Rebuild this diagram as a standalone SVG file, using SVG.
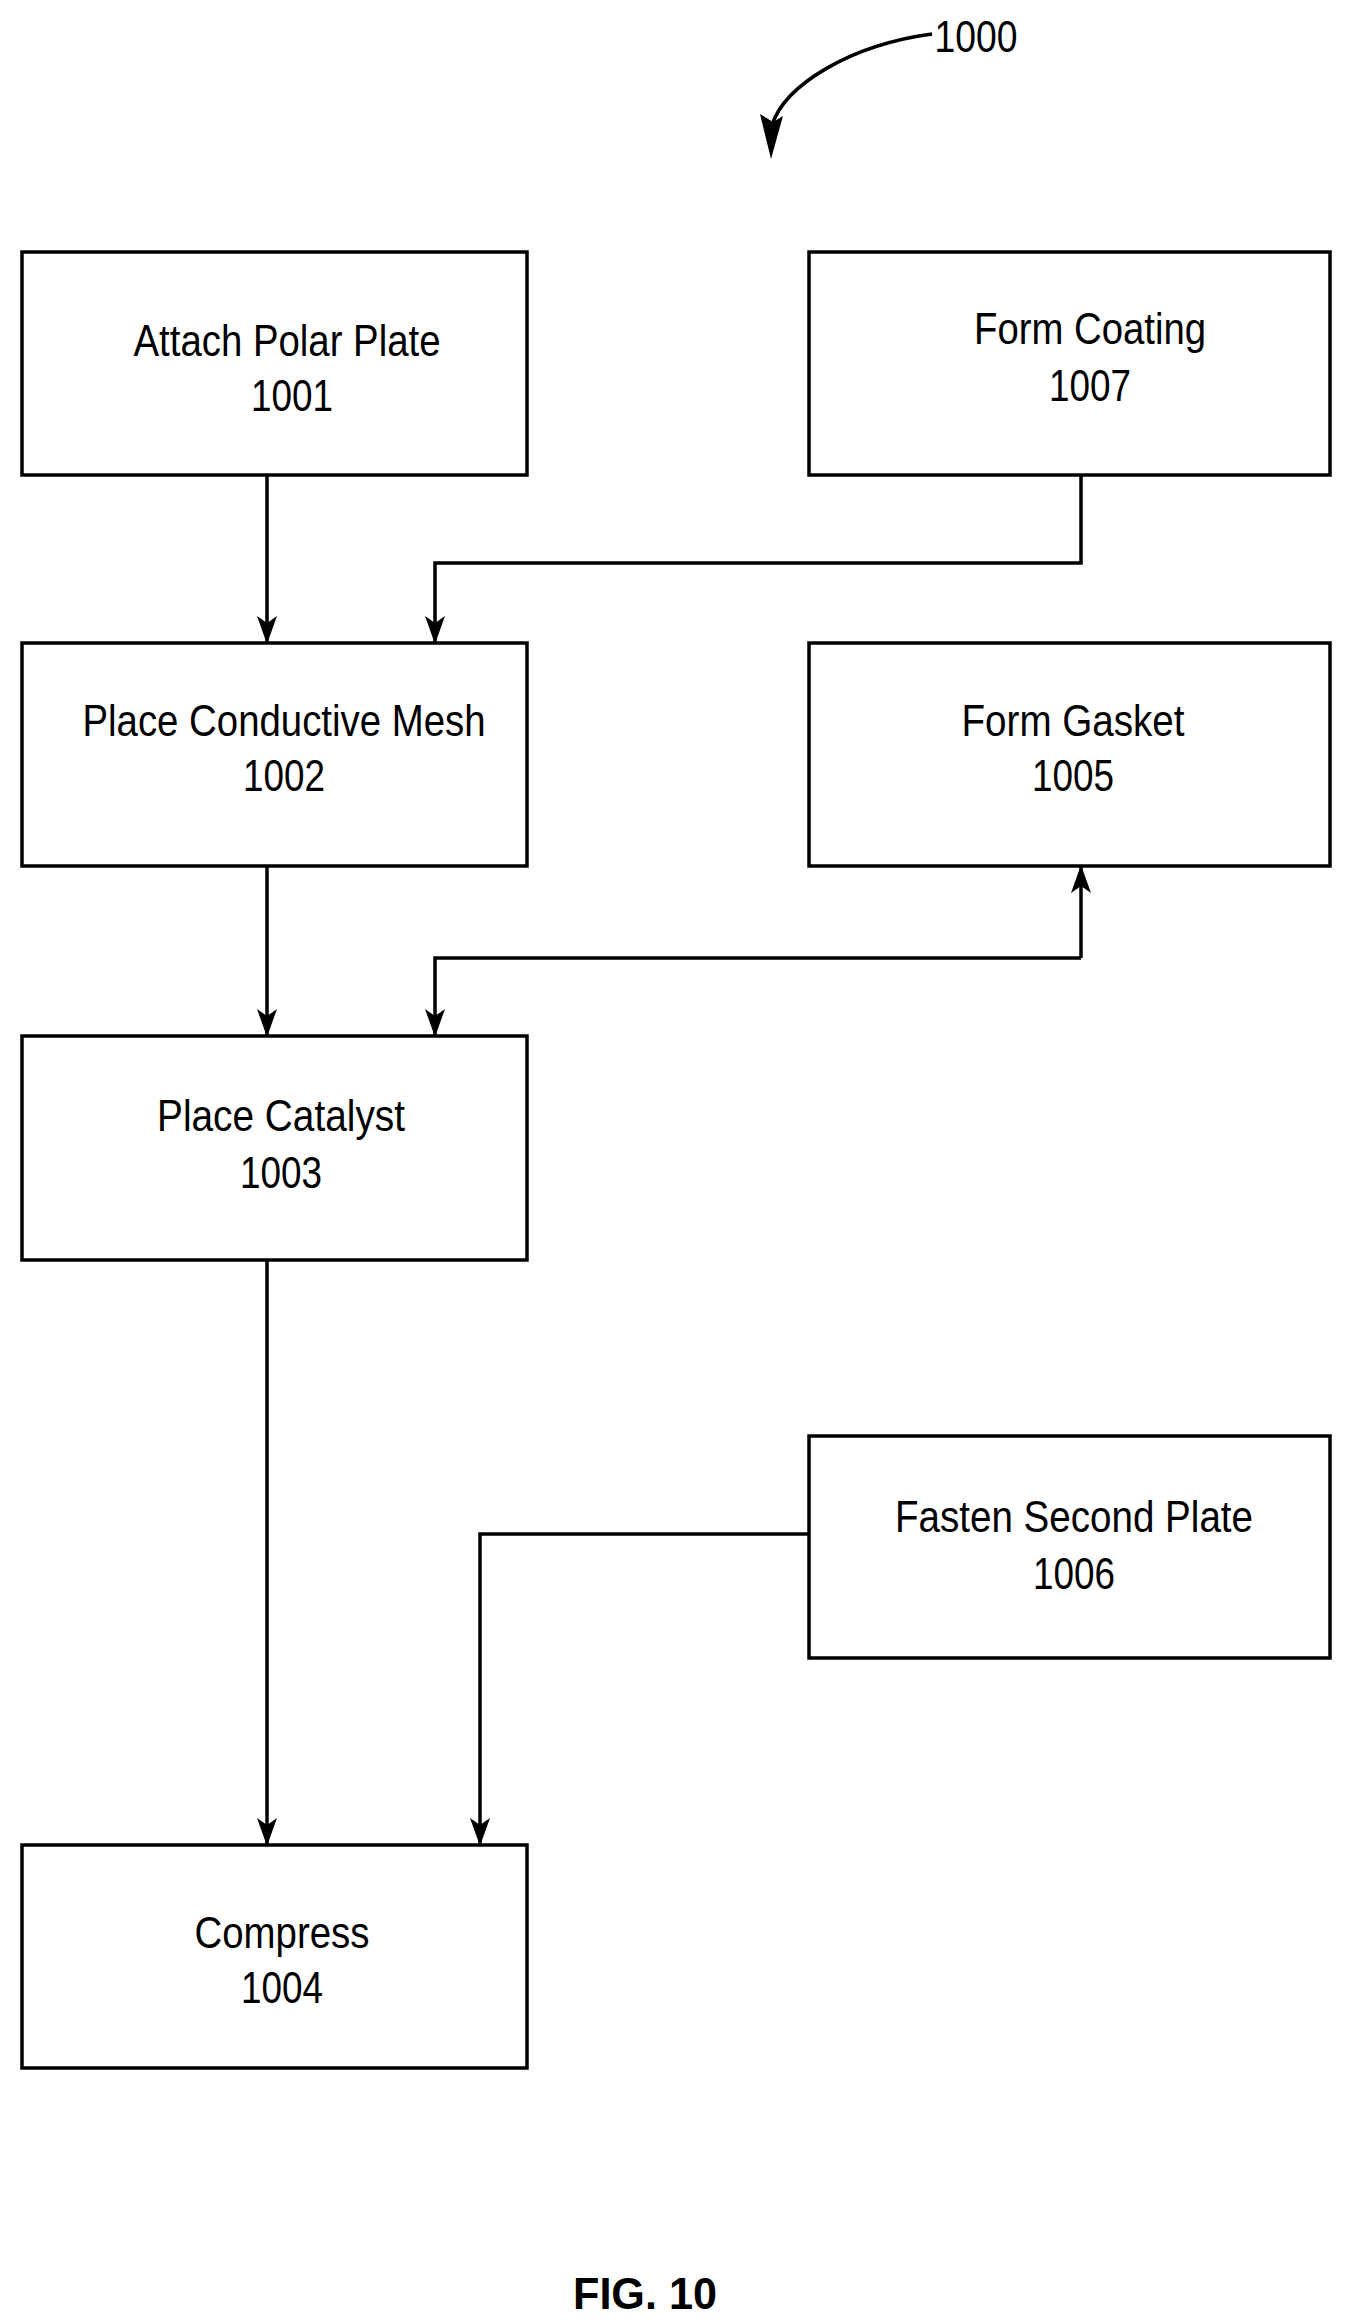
<svg xmlns="http://www.w3.org/2000/svg" width="1351" height="2320" viewBox="0 0 1351 2320">
<style>
.b{fill:#fff;stroke:#000;stroke-width:3.5}
.t{font-family:"Liberation Sans",Arial,sans-serif;font-size:45px;text-anchor:middle;fill:#000}
.c{fill:none;stroke:#000;stroke-width:3.5}
</style>
<defs>
<marker id="h" viewBox="0 0 28 20" refX="27" refY="10" markerWidth="28" markerHeight="20" orient="auto" markerUnits="userSpaceOnUse"><path d="M0,0 L28,10 L0,20 L7,10 Z"/></marker>
</defs>
<rect width="1351" height="2320" fill="#fff"/>
<g id="connectors">
<path class="c" d="M932,34 C850,45 785,85 772,125"/>
<path d="M760,114 L773,122 L783,116 L771,159 Z" fill="#000"/>
<path class="c" d="M267,475 V643" marker-end="url(#h)"/>
<path class="c" d="M1081,475 V563 H435 V643" marker-end="url(#h)"/>
<path class="c" d="M267,866 V1036" marker-end="url(#h)"/>
<path class="c" d="M1081,958 H435 V1036" marker-end="url(#h)"/>
<path class="c" d="M1081,958 V866" marker-end="url(#h)"/>
<path class="c" d="M267,1260 V1845" marker-end="url(#h)"/>
<path class="c" d="M809,1534 H480 V1845" marker-end="url(#h)"/>
</g>
<g id="n1001"><rect class="b" x="22" y="252" width="505" height="223"/><text class="t" x="287" y="356" textLength="307" lengthAdjust="spacingAndGlyphs">Attach Polar Plate</text><text class="t" x="292" y="411" textLength="82" lengthAdjust="spacingAndGlyphs">1001</text></g>
<g id="n1007"><rect class="b" x="809" y="252" width="521" height="223"/><text class="t" x="1090" y="344" textLength="232" lengthAdjust="spacingAndGlyphs">Form Coating</text><text class="t" x="1090" y="401" textLength="82" lengthAdjust="spacingAndGlyphs">1007</text></g>
<g id="n1002"><rect class="b" x="22" y="643" width="505" height="223"/><text class="t" x="284" y="736" textLength="403" lengthAdjust="spacingAndGlyphs">Place Conductive Mesh</text><text class="t" x="284" y="791" textLength="82" lengthAdjust="spacingAndGlyphs">1002</text></g>
<g id="n1005"><rect class="b" x="809" y="643" width="521" height="223"/><text class="t" x="1073" y="736" textLength="223" lengthAdjust="spacingAndGlyphs">Form Gasket</text><text class="t" x="1073" y="791" textLength="82" lengthAdjust="spacingAndGlyphs">1005</text></g>
<g id="n1003"><rect class="b" x="22" y="1036" width="505" height="224"/><text class="t" x="281" y="1131" textLength="248" lengthAdjust="spacingAndGlyphs">Place Catalyst</text><text class="t" x="281" y="1188" textLength="82" lengthAdjust="spacingAndGlyphs">1003</text></g>
<g id="n1006"><rect class="b" x="809" y="1436" width="521" height="222"/><text class="t" x="1074" y="1532" textLength="358" lengthAdjust="spacingAndGlyphs">Fasten Second Plate</text><text class="t" x="1074" y="1589" textLength="82" lengthAdjust="spacingAndGlyphs">1006</text></g>
<g id="n1004"><rect class="b" x="22" y="1845" width="505" height="223"/><text class="t" x="282" y="1948" textLength="175" lengthAdjust="spacingAndGlyphs">Compress</text><text class="t" x="282" y="2003" textLength="82" lengthAdjust="spacingAndGlyphs">1004</text></g>
<text class="t" x="976" y="52" textLength="83" lengthAdjust="spacingAndGlyphs">1000</text>
<text class="t" x="645" y="2309" font-weight="bold" font-size="54" textLength="144" lengthAdjust="spacingAndGlyphs">FIG. 10</text>
</svg>
